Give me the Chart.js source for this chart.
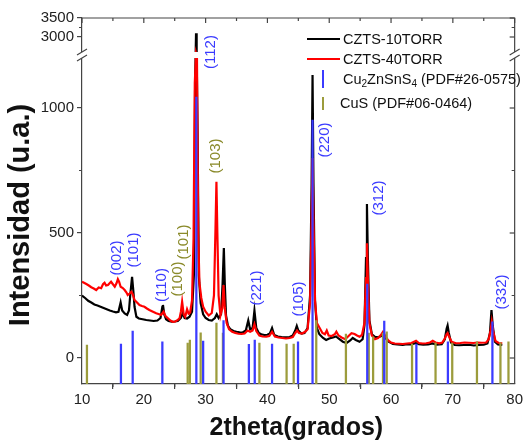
<!DOCTYPE html>
<html>
<head>
<meta charset="utf-8">
<script src="https://cdn.jsdelivr.net/npm/chart.js@4/dist/chart.umd.min.js"></script>
<style>
html, body { margin: 0; padding: 0; background: #fff; }
</style>
</head>
<body>
<canvas id="chart" width="525" height="441"></canvas>
<script>
// CZTS-10TORR (black) sample: 2theta / intensity
const blackTheta = [10.0,10.5,11.0,11.5,12.0,12.5,13.0,13.5,14.0,14.5,15.0,15.5,15.9,16.25,16.5,16.9,17.3,17.6,17.8,18.1,18.3,18.5,18.8,19.2,19.8,20.4,21.0,21.6,22.2,22.7,23.0,23.1,23.3,23.6,24.0,24.5,25.0,25.5,26.0,26.3,26.6,27.0,27.4,27.8,28.1,28.3,28.45,28.55,28.7,28.9,29.2,29.6,30.0,30.5,31.0,31.5,31.8,32.1,32.5,32.75,32.95,33.1,33.3,33.6,34.0,34.5,35.0,35.5,36.0,36.5,36.9,37.2,37.6,37.9,38.2,38.6,39.0,39.5,40.0,40.4,40.75,41.1,41.7,42.3,43.0,43.6,44.1,44.5,44.75,45.0,45.5,46.0,46.5,46.9,47.15,47.3,47.45,47.7,48.0,48.4,49.0,49.5,50.0,50.6,51.1,51.6,52.2,52.8,53.4,53.8,54.3,54.9,55.4,55.7,55.95,56.1,56.25,56.5,56.9,57.4,57.9,58.4,58.7,59.1,59.6,60.3,61.0,61.9,62.6,63.3,64.0,64.5,65.2,66.0,66.7,67.4,68.2,68.7,69.0,69.15,69.35,69.7,70.3,71.0,71.8,72.6,73.4,74.2,75.0,75.6,76.0,76.25,76.45,76.8,77.3,78.0];
const blackInt = [250,240,229,222,214,210,205,200,195,190,186,183,185,222,190,178,172,190,250,325,270,205,165,158,155,152,150,148,150,160,205,212,175,155,148,145,146,148,160,180,160,158,165,185,330,1100,3100,2400,900,330,220,175,160,152,150,160,175,160,175,300,440,300,170,130,115,108,105,103,102,110,150,115,120,190,120,100,95,92,93,98,120,92,86,84,83,84,90,110,128,110,98,100,120,250,700,1132,700,230,120,95,80,72,78,82,86,76,65,60,70,80,72,65,75,130,400,616,400,150,95,85,83,88,95,80,65,56,54,52,55,54,60,55,53,54,58,53,55,75,118,130,100,62,52,51,52,53,50,52,53,58,100,192,130,65,54,52];

// CZTS-40TORR (red) sample
const redTheta = [10.0,10.4,10.7,11.1,11.5,11.9,12.3,12.7,13.1,13.4,13.65,13.9,14.2,14.5,14.7,15.0,15.3,15.6,15.8,16.0,16.25,16.6,16.9,17.2,17.4,17.7,18.0,18.2,18.5,18.9,19.3,19.7,20.1,20.5,20.9,21.4,22.0,22.5,22.8,23.2,23.5,23.9,24.3,24.7,25.1,25.5,25.8,26.0,26.2,26.45,26.7,27.0,27.25,27.5,27.8,28.05,28.25,28.45,28.6,28.8,29.0,29.3,29.6,30.0,30.5,31.0,31.35,31.6,31.75,31.9,32.1,32.4,32.7,32.9,33.1,33.4,33.8,34.3,34.8,35.3,35.8,36.3,36.8,37.2,37.6,37.9,38.2,38.7,39.2,39.8,40.3,40.75,41.2,41.8,42.4,43.0,43.6,44.1,44.5,44.8,45.1,45.6,46.1,46.5,46.9,47.15,47.3,47.45,47.7,48.0,48.45,48.9,49.3,49.6,49.9,50.4,50.9,51.15,51.5,52.0,52.6,53.0,53.6,54.1,54.5,54.9,55.3,55.7,55.95,56.1,56.25,56.5,56.9,57.4,57.9,58.3,58.7,59.0,59.5,60.0,60.6,61.3,61.9,62.6,63.3,64.05,64.5,65.1,65.7,66.3,66.75,67.2,67.8,68.3,68.7,69.0,69.15,69.4,69.8,70.5,71.2,71.9,72.6,73.3,74.0,74.7,75.4,75.8,76.1,76.3,76.5,76.9,77.4,78.0];
const redInt = [305,300,296,290,283,278,272,282,279,295,301,290,292,300,305,295,285,300,315,305,285,280,272,262,252,258,265,255,232,222,212,208,205,198,192,186,179,175,172,185,168,159,150,145,146,152,160,185,225,175,165,195,178,182,230,480,1100,2200,1300,500,300,240,205,185,170,180,250,520,705,500,250,170,200,292,200,140,115,105,100,97,96,98,110,105,110,135,108,90,86,85,88,105,86,82,80,78,80,84,100,110,100,98,105,115,220,550,800,550,230,140,120,100,95,110,90,88,95,105,90,82,75,85,99,96,90,85,92,140,320,459,320,140,90,75,80,90,105,92,72,62,58,57,56,58,60,69,60,58,59,62,69,62,59,62,78,96,100,85,65,59,60,62,61,60,62,61,62,75,110,145,110,68,60,59];

// reference patterns (stick positions and heights)
const cztsTheta  = [16.3,18.2,23.0,28.5,29.6,32.9,37.0,37.95,40.75,44.95,47.3,56.15,58.9,64.1,69.2,76.4];
const cztsHeight = [56,108,65,1044,68,150,55,72,56,65,952,296,148,56,65,145];
const cusTheta  = [10.8,27.1,27.45,29.2,31.75,32.8,38.7,43.1,44.25,47.9,52.7,56.4,57.1,58.7,59.3,63.4,67.2,69.9,73.9,77.7,79.0];
const cusHeight = [52,60,72,101,140,100,60,56,56,150,96,100,85,100,105,56,61,60,65,61,65];

// peak labels
const hklText  = ['(002)','(101)','(110)','(100)','(101)','(112)','(103)','(221)','(105)','(220)','(312)','(332)'];
const hklTheta = [15.65,18.4,22.9,25.5,26.5,30.85,31.65,38.27,45.06,49.26,58.0,78.0];
const hklInt   = [400,432,292,316,464,2605,808,280,236,872,640,264];
const hklPhase = ['czts','czts','czts','cus','cus','czts','cus','czts','czts','czts','czts','czts'];

const xTicks = [10,20,30,40,50,60,70,80];
const yTicks = [0,500,1000,3000,3500];
const yMinor = [250,750,3250];

const BLUE = '#3b3bff';
const OLIVE = '#9c9c3c';
const OLIVE_TXT = '#8a8a2a';
const FONT = 'Arial, "Liberation Sans", sans-serif';

// broken axis: 0..1200 linear, gap, then 2605..3500 compressed
const BREAK_LO = 1200, BREAK_HI = 2605, GAP = 24, UP = 0.152;
const Y_MIN = -104;
function fwd(v) {
  if (v <= BREAK_LO) return v;
  if (v < BREAK_HI) return BREAK_LO + (v - BREAK_LO) / (BREAK_HI - BREAK_LO) * GAP;
  return BREAK_LO + GAP + (v - BREAK_HI) * UP;
}

const toPts = (xs, ys) => xs.map((x, i) => ({ x: x, y: fwd(ys[i]) }));
const toSticks = (xs, hs) => xs.map((x, i) => ({ x: x, y: [Y_MIN, fwd(hs[i])] }));

// frame, breaks, minor ticks, labels and legend
const decor = {
  id: 'decor',
  afterDraw(chart) {
    const ctx = chart.ctx;
    const a = chart.chartArea;
    const xs = chart.scales.x, ys = chart.scales.y;
    ctx.save();
    ctx.strokeStyle = '#444';
    ctx.lineWidth = 1.2;
    // top and right axis
    ctx.beginPath();
    ctx.moveTo(a.left, a.top); ctx.lineTo(a.right, a.top); ctx.lineTo(a.right, a.bottom);
    ctx.stroke();
    // x ticks: top inward, bottom minor outward
    for (let v = 10; v <= 80; v += 5) {
      const px = xs.getPixelForValue(v);
      const major = v % 10 === 0;
      ctx.beginPath();
      ctx.moveTo(px, a.top); ctx.lineTo(px, a.top + (major ? 5 : 3));
      if (!major) { ctx.moveTo(px, a.bottom); ctx.lineTo(px, a.bottom + 3); }
      ctx.stroke();
    }
    // y ticks: right inward, left minor outward
    yTicks.concat(yMinor).forEach(v => {
      const py = ys.getPixelForValue(fwd(v));
      const major = yTicks.includes(v);
      ctx.beginPath();
      ctx.moveTo(a.right, py); ctx.lineTo(a.right - (major ? 5 : 3), py);
      if (!major) { ctx.moveTo(a.left, py); ctx.lineTo(a.left - 3, py); }
      ctx.stroke();
    });
    // break band
    const yb1 = ys.getPixelForValue(fwd(BREAK_HI));
    const yb2 = ys.getPixelForValue(BREAK_LO);
    ctx.fillStyle = '#fff';
    ctx.fillRect(a.left - 4, yb1, a.right - a.left + 8, yb2 - yb1);
    [a.left, a.right].forEach(ax => {
      ctx.beginPath();
      ctx.moveTo(ax - 5, yb1 + 3); ctx.lineTo(ax + 5, yb1 - 3);
      ctx.moveTo(ax - 5, yb2 + 3); ctx.lineTo(ax + 5, yb2 - 3);
      ctx.stroke();
    });
    // hkl labels
    ctx.font = '15px ' + FONT;
    ctx.textAlign = 'center';
    ctx.textBaseline = 'middle';
    hklText.forEach((t, i) => {
      const px = xs.getPixelForValue(hklTheta[i]);
      const py = ys.getPixelForValue(fwd(hklInt[i]));
      ctx.save();
      ctx.translate(px, py);
      ctx.rotate(-Math.PI / 2);
      ctx.fillStyle = hklPhase[i] === 'czts' ? BLUE : OLIVE_TXT;
      ctx.fillText(t, 0, 0);
      ctx.restore();
    });
    // axis titles
    ctx.fillStyle = '#111';
    ctx.font = 'bold 25px ' + FONT;
    ctx.fillText('2theta(grados)', (a.left + a.right) / 2 - 2, 428);
    ctx.save();
    ctx.translate(21, 215);
    ctx.rotate(-Math.PI / 2);
    ctx.font = 'bold 29px ' + FONT;
    ctx.fillText('Intensidad (u.a.)', 0, 0);
    ctx.restore();
    // legend
    ctx.textAlign = 'left';
    ctx.fillStyle = '#111';
    ctx.font = '14.5px ' + FONT;
    ctx.lineWidth = 2;
    [['#000', 'CZTS-10TORR', 39], ['#ff0000', 'CZTS-40TORR', 59]].forEach(([c, t, y]) => {
      ctx.strokeStyle = c;
      ctx.beginPath(); ctx.moveTo(307, y); ctx.lineTo(340, y); ctx.stroke();
      ctx.fillText(t, 343, y + 1);
    });
    ctx.strokeStyle = BLUE;
    ctx.beginPath(); ctx.moveTo(323, 70); ctx.lineTo(323, 88); ctx.stroke();
    ctx.strokeStyle = OLIVE;
    ctx.beginPath(); ctx.moveTo(323, 97); ctx.lineTo(323, 110); ctx.stroke();
    // Cu2ZnSnS4 with subscripts
    let x = 343;
    const yL = 80;
    [['Cu', 0], ['2', 1], ['ZnSnS', 0], ['4', 1], [' (PDF#26-0575)', 0]].forEach(([s, sub]) => {
      ctx.font = (sub ? '10px ' : '14.5px ') + FONT;
      ctx.fillText(s, x, yL + (sub ? 4 : 0));
      x += ctx.measureText(s).width;
    });
    ctx.font = '14.5px ' + FONT;
    ctx.fillText('CuS (PDF#06-0464)', 340, 104);
    ctx.restore();
  }
};

new Chart(document.getElementById('chart'), {
  type: 'line',
  data: {
    datasets: [
      { type: 'bar', label: 'Cu2ZnSnS4 (PDF#26-0575)', data: toSticks(cztsTheta, cztsHeight),
        backgroundColor: BLUE, barThickness: 1.6, grouped: false, borderWidth: 0 },
      { type: 'bar', label: 'CuS (PDF#06-0464)', data: toSticks(cusTheta, cusHeight),
        backgroundColor: OLIVE, barThickness: 1.6, grouped: false, borderWidth: 0 },
      { label: 'CZTS-40TORR', data: toPts(redTheta, redInt), borderColor: '#ff0000',
        borderWidth: 2.2, pointRadius: 0, fill: false },
      { label: 'CZTS-10TORR', data: toPts(blackTheta, blackInt), borderColor: '#000',
        borderWidth: 2.2, pointRadius: 0, fill: false }
    ]
  },
  options: {
    responsive: false,
    animation: false,
    layout: { padding: { top: 18, right: 10, left: 0, bottom: 0 } },
    plugins: { legend: { display: false }, tooltip: { enabled: false } },
    scales: {
      x: {
        type: 'linear', min: 10, max: 80, offset: false,
        afterBuildTicks: s => { s.ticks = xTicks.map(v => ({ value: v })); },
        afterFit: s => { s.height = 57; },
        ticks: { font: { size: 15, family: FONT }, color: '#222', padding: 2, maxRotation: 0 },
        grid: { drawOnChartArea: false, tickLength: 5, color: '#444', lineWidth: 1.2 },
        border: { color: '#444', width: 1.2 }
      },
      y: {
        type: 'linear', min: Y_MIN, max: fwd(3500),
        afterBuildTicks: s => { s.ticks = yTicks.map(v => ({ value: fwd(v) })); },
        afterFit: s => { s.width = 82; },
        ticks: { font: { size: 15, family: FONT }, color: '#222', padding: 3,
          callback: (v, i) => yTicks[i] },
        grid: { drawOnChartArea: false, tickLength: 5, color: '#444', lineWidth: 1.2 },
        border: { color: '#444', width: 1.2 }
      }
    }
  },
  plugins: [decor]
});
</script>
</body>
</html>
